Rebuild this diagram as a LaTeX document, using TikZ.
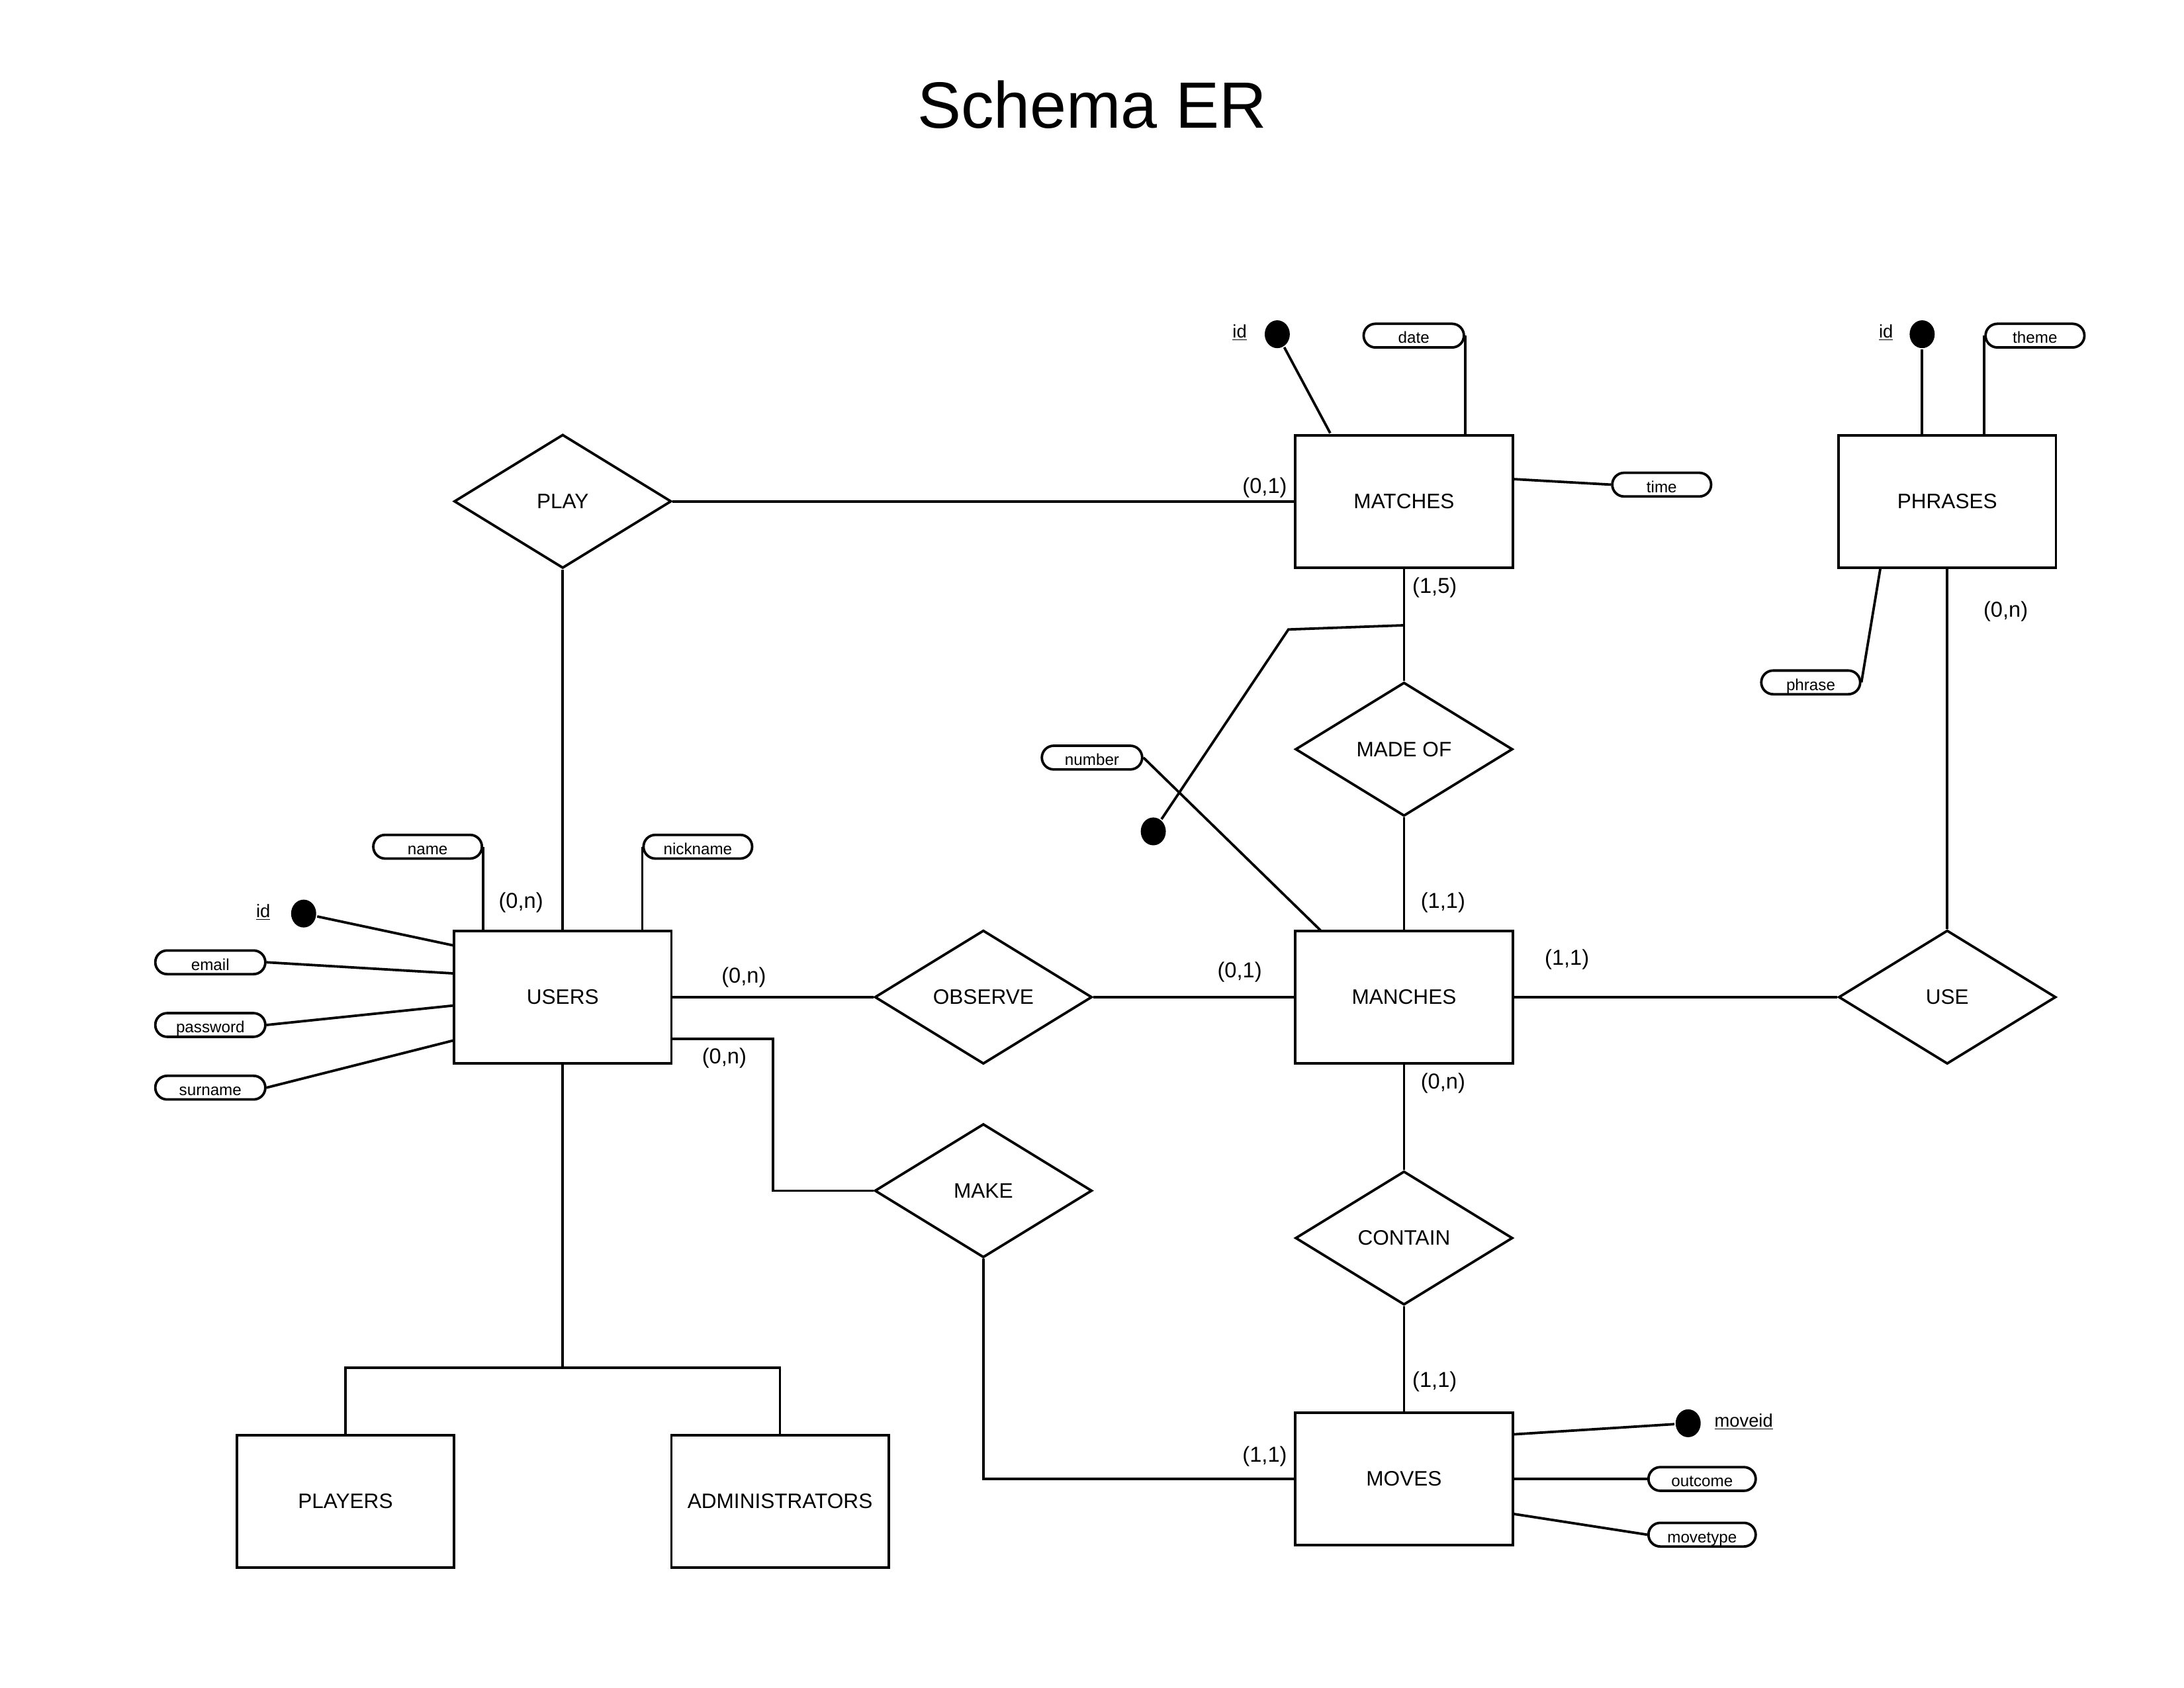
\documentclass[tikz,border=0pt]{standalone}
\usepackage{fontspec}
\setmainfont{Liberation Sans}
\usetikzlibrary{shapes.geometric}
\begin{document}
\begin{tikzpicture}[x=1pt,y=-1pt,line width=1.8pt,
  entity/.style={draw,rectangle,minimum width=156pt,minimum height=95pt,inner sep=0pt,font=\fontsize{15}{18}\selectfont},
  relation/.style={draw,diamond,minimum width=156pt,minimum height=96pt,inner sep=0pt,font=\fontsize{15}{18}\selectfont},
  card/.style={inner sep=0pt,font=\fontsize{15.5}{18}\selectfont},
  attr/.style={draw,rounded corners=8.5pt,minimum height=17pt,inner sep=0pt,text height=11.2pt,text depth=0pt,font=\fontsize{11.5}{13}\selectfont},
  keydot/.style={ellipse,fill=black,minimum width=18pt,minimum height=20pt,inner sep=0pt},
  keylabel/.style={inner sep=0pt,font=\fontsize{13}{15}\selectfont}]
\useasboundingbox (0,0) rectangle (1568,1212);

\node[inner sep=0pt,font=\fontsize{47}{54}\selectfont] (title) at (784,75) {Schema ER};

% entities
\node[entity] (matches) at (1008,360) {MATCHES};
\node[entity] (phrases) at (1398,360) {PHRASES};
\node[entity] (users) at (404,716) {USERS};
\node[entity] (manches) at (1008,716) {MANCHES};
\node[entity] (moves) at (1008,1062) {MOVES};
\node[entity] (players) at (248,1078) {PLAYERS};
\node[entity] (admins) at (560,1078) {ADMINISTRATORS};

% relations
\node[relation] (play) at (404,360) {PLAY};
\node[relation] (madeof) at (1008,538) {MADE OF};
\node[relation] (observe) at (706,716) {OBSERVE};
\node[relation] (use) at (1398,716) {USE};
\node[relation] (make) at (706,855) {MAKE};
\node[relation] (contain) at (1008,889) {CONTAIN};

% connectors
\draw (play.east) -- (matches.west);
\draw (play.south) -- (users.north);
\draw (matches.south) -- (madeof.north);
\draw (madeof.south) -- (manches.north);
\draw (users.east) -- (observe.west);
\draw (observe.east) -- (manches.west);
\draw (manches.east) -- (use.west);
\draw (use.north) -- (phrases.south);
\draw (manches.south) -- (contain.north);
\draw (contain.south) -- (moves.north);
\draw (users.east |- 0,746) -- (555,746) -- (555,855) -- (make.west);
\draw (make.south) |- (moves.west);
\draw (users.south) -- (404,982);
\draw (players.north) |- (560,982) -- (admins.north);

% cardinalities
\node[card] (c1) at (908,350) {(0,1)};
\node[card] (c2) at (374,648) {(0,n)};
\node[card] (c3) at (1030,422) {(1,5)};
\node[card] (c4) at (1036,648) {(1,1)};
\node[card] (c5) at (534,702) {(0,n)};
\node[card] (c6) at (890,698) {(0,1)};
\node[card] (c7) at (1125,689) {(1,1)};
\node[card] (c8) at (1440,439) {(0,n)};
\node[card] (c9) at (1036,778) {(0,n)};
\node[card] (c10) at (1030,992) {(1,1)};
\node[card] (c11) at (520,760) {(0,n)};
\node[card] (c12) at (908,1046) {(1,1)};

% MATCHES attributes
\node[keydot] (mid) at (917,240) {};
\node[keylabel] (midl) at (890,239) {\underline{id}};
\coordinate (midp) at (955,311);
\draw (mid) -- (midp);
\node[attr,minimum width=72pt] (date) at (1015,241) {date};
\draw (date.east) -- (date.east |- matches.north);
\node[attr,minimum width=71pt] (time) at (1193,348) {time};
\coordinate (timep) at (1086,344);
\draw (timep) -- (time.west);

% PHRASES attributes
\node[keydot] (pid) at (1380,240) {};
\node[keylabel] (pidl) at (1354,239) {\underline{id}};
\draw (pid) -- (pid |- phrases.north);
\node[attr,minimum width=71pt] (theme) at (1461,241) {theme};
\draw (theme.west) -- (theme.west |- phrases.north);
\node[attr,minimum width=71pt] (phrase) at (1300,490) {phrase};
\coordinate (phrasep) at (1350,408);
\draw (phrase.east) -- (phrasep);

% MANCHES attributes
\node[attr,minimum width=72pt] (number) at (784,544) {number};
\coordinate (numberp) at (948,668);
\draw (number.east) -- (numberp);
\node[keydot] (mnid) at (828,597) {};
\coordinate (ext) at (925,452);
\coordinate (extp) at (1008,449);
\draw (mnid) -- (ext) -- (extp);

% USERS attributes
\node[attr,minimum width=78pt] (name) at (307,608) {name};
\draw (name.east) -- (name.east |- users.north);
\node[attr,minimum width=78pt] (nickname) at (501,608) {nickname};
\draw (nickname.west) -- (nickname.west |- users.north);
\node[keydot] (uid) at (218,656) {};
\node[keylabel] (uidl) at (189,655) {\underline{id}};
\coordinate (uidp) at (326,679);
\draw (uid) -- (uidp);
\node[attr,minimum width=79pt] (email) at (151,691) {email};
\coordinate (emailp) at (326,699);
\draw (email.east) -- (emailp);
\node[attr,minimum width=79pt] (password) at (151,736) {password};
\coordinate (passwordp) at (326,722);
\draw (password.east) -- (passwordp);
\node[attr,minimum width=79pt] (surname) at (151,781) {surname};
\coordinate (surnamep) at (326,747);
\draw (surname.east) -- (surnamep);

% MOVES attributes
\node[keydot] (moveid) at (1212,1022) {};
\node[keylabel,anchor=west] (moveidl) at (1230,1021) {\underline{moveid}};
\coordinate (moveidp) at (1086,1030);
\draw (moveidp) -- (moveid);
\node[attr,minimum width=77pt] (outcome) at (1222,1062) {outcome};
\draw (moves.east |- outcome) -- (outcome.west);
\node[attr,minimum width=77pt] (movetype) at (1222,1102) {movetype};
\coordinate (movetypep) at (1086,1087);
\draw (movetypep) -- (movetype.west);
\end{tikzpicture}
\end{document}
